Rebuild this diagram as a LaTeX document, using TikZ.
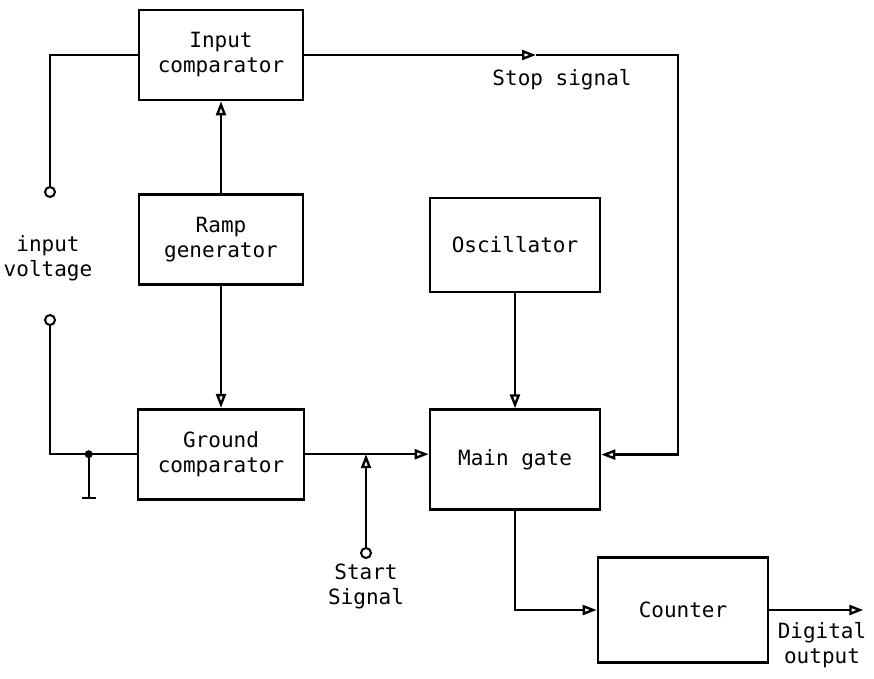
\documentclass[tikz,border=0pt]{standalone}
\usepackage{fontspec}
\setmonofont{DejaVu Sans Mono}
\usepackage{tikz}
\usetikzlibrary{positioning,arrows.meta}

\begin{document}
\begin{tikzpicture}[
  x=1pt, y=-1pt,
  font=\fontsize{21}{25}\selectfont\ttfamily,
  >={Triangle[open,length=14pt,width=10pt]},
  box/.style={
    draw, line width=2.6pt,
    minimum width=164pt, minimum height=90pt,
    align=center, inner sep=4pt
  },
  wire/.style={line width=2.4pt},
  term/.style={draw, circle, line width=2pt, inner sep=0pt, minimum size=10pt},
  lbl/.style={align=center, inner sep=1pt}
]

\useasboundingbox (0,0) rectangle (874,678);

% left column
\node[box] (inp) at (221,55) {Input\\comparator};
\node[box, below=92pt of inp] (ramp) {Ramp\\generator};
\node[box, minimum width=166pt, below=122pt of ramp] (gnd) {Ground\\comparator};

% right column
\node[box, minimum width=170pt, minimum height=94pt] (osc) at (515,245) {Oscillator};
\node[box, minimum width=170pt, minimum height=100pt, below=115pt of osc] (gate) {Main gate};
\node[box, minimum width=170pt, minimum height=105pt] (cnt) at (683,610) {Counter};

% terminals
\node[term] (tin1) at (50,192) {};
\node[term] (tin2) at (50,320) {};
\node[term] (tst) at (366,553) {};
\coordinate[left=48pt of gnd.west] (jgnd);
\coordinate (stj) at (tst |- gnd.east);
\coordinate (stopmid) at (536,55);
\coordinate (stopcnr) at (678,55);
\coordinate[right=94pt of cnt.east] (dout);

% labels
\node[lbl] (volt) at (48,258) {input\\voltage};
\node[lbl] (stop) at (562,80) {Stop signal};
\node[lbl, below=4pt of tst] (start) {Start\\Signal};
\node[lbl] (digout) at (822,645) {Digital\\output};

% connections
\draw[wire] (inp.west) -| (tin1.north);
\draw[wire] (tin2.south) |- (gnd.west);
\fill (jgnd) circle (4pt);
\draw[wire] (jgnd) -- ++(0,44) coordinate (gr);
\draw[wire] ([xshift=-7pt]gr) -- ([xshift=7pt]gr);

\draw[wire, ->] (ramp) -- (inp);
\draw[wire, ->] (ramp) -- (gnd);
\draw[wire, ->] (osc) -- (gate);
\draw[wire, ->] (gnd.east) -- (gnd.east -| gate.west);
\draw[wire, ->] (tst.north) -- (stj);

\draw[wire, ->] (inp.east) -- (stopmid);
\draw[wire, ->] (stopmid) -- (stopcnr) |- ([yshift=5pt]gate.east);

\draw[wire, ->] (gate.south) |- (cnt.west);
\draw[wire, ->] (cnt.east) -- (dout);

\end{tikzpicture}
\end{document}
